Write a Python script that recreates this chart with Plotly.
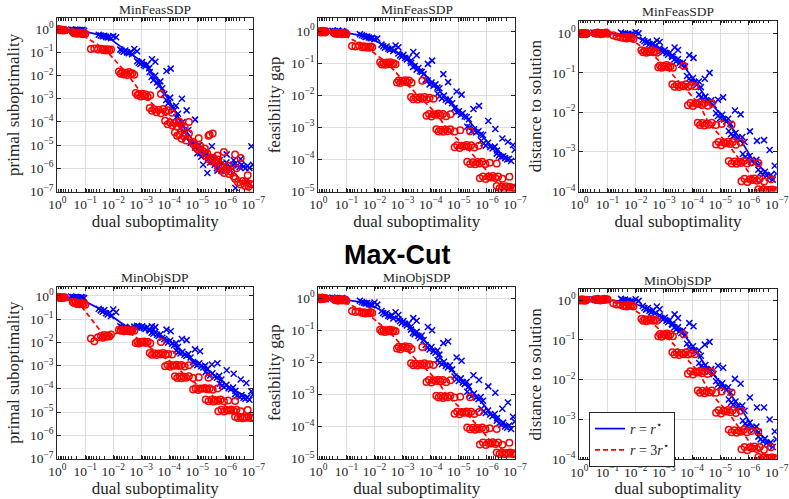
import numpy as np
import plotly.graph_objects as go

W, H = 789, 499

# ---------------- data (log10 values) ----------------
# dual suboptimality, shared by all panels (one list per outer iteration cluster)
BLUE_X = [
    [0.0, -0.03, -0.06, -0.09, -0.11, -0.14, -0.17, -0.2, -0.23, -0.26],
    [-0.5, -0.55, -0.6, -0.65, -0.7, -0.75, -0.8, -0.85, -0.9, -0.96],
    [-1.48, -1.55, -1.62, -1.68, -1.74, -1.8, -1.86, -1.92, -2.0, -2.1],
    [-2.25, -2.31, -2.37, -2.43, -2.49, -2.55, -2.61, -2.67, -2.75, -2.85],
    [-2.85, -2.91, -2.97, -3.03, -3.09, -3.15, -3.21, -3.28, -3.38, -3.5],
    [-3.3, -3.37, -3.43, -3.5, -3.56, -3.62, -3.68, -3.75, -3.9, -4.05],
    [-3.82, -3.89, -3.96, -4.03, -4.1, -4.17, -4.24, -4.31, -4.45, -4.62],
    [-4.25, -4.32, -4.4, -4.47, -4.54, -4.61, -4.68, -4.76, -4.92, -5.1],
    [-4.85, -4.92, -5.0, -5.07, -5.14, -5.21, -5.28, -5.36, -5.52, -5.72],
    [-5.3, -5.38, -5.46, -5.54, -5.62, -5.7, -5.78, -5.86, -6.05, -6.3],
    [-5.8, -5.88, -5.96, -6.04, -6.12, -6.2, -6.28, -6.36, -6.55, -6.75],
    [-6.35, -6.43, -6.51, -6.58, -6.65, -6.72, -6.79, -6.86, -6.93, -6.99],
]
RED_X = [
    [0.0, -0.03, -0.06, -0.09, -0.12, -0.15, -0.18, -0.21, -0.24, -0.27],
    [-0.55, -0.6, -0.65, -0.7, -0.75, -0.8, -0.85, -0.9, -0.95, -1.0],
    [-1.2, -1.32, -1.45, -1.56, -1.62, -1.68, -1.74, -1.8, -1.86, -1.92],
    [-2.2, -2.26, -2.32, -2.38, -2.44, -2.5, -2.56, -2.62, -2.68, -2.75],
    [-2.8, -2.86, -2.92, -2.98, -3.04, -3.1, -3.16, -3.23, -3.32, -3.7],
    [-3.3, -3.38, -3.46, -3.54, -3.62, -3.7, -3.78, -3.86, -3.96, -4.1],
    [-3.85, -3.94, -4.03, -4.11, -4.19, -4.27, -4.35, -4.43, -4.55, -4.7],
    [-4.2, -4.28, -4.36, -4.44, -4.52, -4.6, -4.7, -4.85, -5.05, -5.4],
    [-4.85, -4.94, -5.03, -5.11, -5.19, -5.27, -5.35, -5.44, -5.55, -5.72],
    [-5.3, -5.4, -5.5, -5.58, -5.66, -5.74, -5.83, -5.95, -6.1, -6.35],
    [-5.75, -5.86, -5.96, -6.05, -6.13, -6.21, -6.3, -6.4, -6.55, -6.8],
    [-6.35, -6.45, -6.54, -6.62, -6.69, -6.76, -6.83, -6.9, -6.96, -7.02],
]
BLUE_LINE_X = [-0.05, -0.72, -1.78, -2.52, -3.15, -3.6, -4.1, -4.55, -5.15, -5.65, -6.15, -6.75]
RED_LINE_X = [-0.1, -0.78, -1.7, -2.48, -3.05, -3.65, -4.25, -4.6, -5.25, -5.75, -6.2, -6.75]

# ---- MinFeasSDP: primal suboptimality ----
P1_BLUE_Y = [
    [0.0, -0.02, -0.04, -0.01, -0.03, -0.05, -0.02, -0.04, -0.03, -0.06],
    [-0.01, -0.03, -0.05, -0.02, -0.04, -0.06, -0.03, -0.05, -0.02, -0.07],
    [-0.24, -0.27, -0.3, -0.28, -0.33, -0.36, -0.34, -0.39, -0.3, -0.35],
    [-0.88, -0.93, -0.97, -0.92, -1.0, -1.04, -0.99, -1.08, -0.85, -0.95],
    [-1.38, -1.45, -1.5, -1.42, -1.55, -1.6, -1.52, -1.68, -1.3, -1.4],
    [-1.85, -2.05, -2.2, -2.0, -2.3, -2.45, -2.25, -2.55, -1.8, -1.7],
    [-2.8, -3.05, -3.2, -2.95, -3.35, -3.5, -3.3, -3.65, -3.0, -3.5],
    [-3.8, -4.05, -4.25, -4.0, -4.45, -4.7, -4.35, -4.9, -3.9, -5.35],
    [-4.9, -5.1, -5.35, -5.0, -5.5, -5.85, -5.3, -6.2, -5.05, -6.1],
    [-5.4, -5.6, -5.75, -5.5, -5.85, -6.0, -5.7, -6.1, -5.4, -5.65],
    [-5.65, -5.8, -5.9, -5.75, -6.0, -6.1, -5.85, -6.85, -5.6, -6.55],
    [-5.8, -5.88, -5.95, -5.85, -5.92, -6.0, -5.9, -5.98, -5.05, -5.85],
]
P1_RED_Y = [
    [0.02, -0.02, 0.0, -0.05, -0.01, -0.04, -0.02, -0.06, -0.03, -0.05],
    [-0.12, -0.18, -0.15, -0.2, -0.14, -0.19, -0.16, -0.22, -0.17, -0.2],
    [-0.85, -0.83, -0.88, -0.84, -0.9, -0.86, -0.92, -0.87, -0.91, -0.88],
    [-1.82, -1.92, -1.86, -1.95, -1.88, -1.98, -1.85, -1.93, -1.9, -1.96],
    [-2.75, -2.85, -2.8, -2.9, -2.78, -2.88, -2.82, -2.92, -2.85, -2.8],
    [-3.4, -3.52, -3.45, -3.58, -3.48, -3.62, -3.44, -3.55, -3.5, -3.6],
    [-3.95, -4.1, -4.02, -4.15, -4.05, -4.2, -3.98, -4.12, -4.22, -4.0],
    [-4.45, -4.6, -4.55, -4.72, -4.62, -4.8, -4.5, -4.85, -4.7, -4.6],
    [-4.95, -5.1, -5.2, -5.05, -5.25, -5.15, -5.35, -4.55, -4.5, -5.45],
    [-5.45, -5.6, -5.7, -5.55, -5.75, -5.62, -5.85, -5.3, -5.9, -5.4],
    [-5.95, -6.1, -6.2, -6.05, -6.25, -6.15, -6.35, -6.0, -5.55, -6.3],
    [-6.45, -6.6, -6.7, -6.55, -6.75, -6.62, -6.8, -6.68, -6.9, -6.7],
]
P1_BLUE_LINE_Y = [-0.02, -0.03, -0.32, -0.98, -1.5, -2.25, -3.3, -4.3, -5.3, -5.75, -5.9, -5.95]
P1_RED_LINE_Y = [-0.03, -0.17, -0.86, -1.9, -2.83, -3.5, -4.08, -4.63, -5.13, -5.63, -6.13, -6.64]

# ---- MinFeasSDP: feasibility gap ----
P2_BLUE_Y = [
    [0.02, -0.01, 0.01, -0.02, 0.0, -0.03, 0.02, -0.01, 0.0, -0.02],
    [0.01, -0.02, 0.0, -0.03, 0.02, -0.01, -0.04, 0.0, -0.02, -0.05],
    [-0.1, -0.13, -0.15, -0.18, -0.17, -0.2, -0.22, -0.21, -0.25, -0.23],
    [-0.42, -0.47, -0.52, -0.48, -0.55, -0.58, -0.54, -0.62, -0.45, -0.5],
    [-0.7, -0.76, -0.8, -0.74, -0.84, -0.88, -0.83, -0.93, -0.65, -0.75],
    [-0.99, -1.12, -1.09, -1.2, -1.15, -1.25, -1.27, -1.34, -1.02, -0.92],
    [-1.52, -1.54, -1.66, -1.6, -1.7, -1.66, -1.76, -1.78, -1.34, -1.59],
    [-1.95, -2.03, -2.1, -2.01, -2.14, -2.19, -2.13, -2.25, -1.88, -1.98],
    [-2.4, -2.53, -2.5, -2.61, -2.56, -2.66, -2.68, -2.75, -2.43, -2.33],
    [-2.98, -3.0, -3.12, -3.06, -3.16, -3.12, -3.22, -3.24, -2.8, -3.05],
    [-3.42, -3.5, -3.57, -3.48, -3.61, -3.66, -3.6, -3.72, -3.35, -3.45],
    [-3.82, -3.88, -3.92, -3.9, -3.96, -4.0, -3.98, -4.05, -3.55, -3.7],
]
P2_RED_Y = [
    [0.0, -0.03, -0.01, -0.04, -0.02, 0.01, -0.03, -0.02, -0.04, 0.0],
    [-0.05, -0.08, -0.06, -0.09, -0.07, -0.05, -0.1, -0.08, -0.06, -0.09],
    [-0.46, -0.48, -0.45, -0.5, -0.47, -0.51, -0.49, -0.52, -0.48, -0.5],
    [-0.97, -1.04, -0.99, -1.05, -0.98, -1.03, -0.97, -1.04, -1.0, -1.03],
    [-1.6, -1.54, -1.62, -1.55, -1.57, -1.53, -1.59, -1.54, -1.61, -1.55],
    [-2.05, -2.12, -2.07, -2.13, -2.06, -2.11, -2.05, -2.12, -2.08, -2.11],
    [-2.64, -2.58, -2.66, -2.59, -2.61, -2.57, -2.63, -2.58, -2.65, -2.59],
    [-3.06, -3.13, -3.08, -3.14, -3.07, -3.12, -3.06, -3.13, -3.09, -3.12],
    [-3.62, -3.56, -3.64, -3.57, -3.59, -3.55, -3.61, -3.56, -3.63, -3.57],
    [-4.07, -4.14, -4.09, -4.15, -4.08, -4.13, -4.07, -4.14, -4.1, -4.13],
    [-4.59, -4.53, -4.61, -4.54, -4.56, -4.52, -4.58, -4.53, -4.6, -4.54],
    [-4.83, -4.9, -4.85, -4.91, -4.84, -4.89, -4.86, -4.9, -4.88, -4.92],
]
P2_BLUE_LINE_Y = [0.0, -0.01, -0.18, -0.52, -0.82, -1.17, -1.64, -2.1, -2.58, -3.1, -3.57, -3.98]
P2_RED_LINE_Y = [-0.02, -0.07, -0.49, -1.01, -1.57, -2.09, -2.61, -3.1, -3.59, -4.11, -4.56, -4.88]

# ---- MinFeasSDP: distance to solution ----
P3_BLUE_Y = [
    [0.01, -0.01, 0.0, -0.02, 0.01, -0.01, 0.0, -0.02, 0.01, 0.0],
    [0.02, 0.0, -0.01, 0.01, -0.02, 0.0, 0.01, -0.01, 0.02, 0.0],
    [0.02, -0.01, 0.0, -0.03, -0.01, -0.04, -0.02, -0.05, 0.03, 0.0],
    [-0.16, -0.2, -0.24, -0.21, -0.27, -0.3, -0.26, -0.33, -0.18, -0.22],
    [-0.38, -0.44, -0.47, -0.42, -0.5, -0.54, -0.49, -0.57, -0.36, -0.42],
    [-0.6, -0.66, -0.71, -0.65, -0.75, -0.8, -0.73, -0.84, -0.55, -0.62],
    [-1.08, -1.15, -1.2, -1.13, -1.25, -1.3, -1.22, -1.36, -1.15, -1.0],
    [-1.55, -1.62, -1.67, -1.6, -1.71, -1.76, -1.69, -1.82, -1.68, -1.62],
    [-2.02, -2.09, -2.14, -2.06, -2.18, -2.23, -2.16, -2.29, -1.95, -2.05],
    [-2.47, -2.55, -2.6, -2.52, -2.65, -2.7, -2.62, -2.75, -2.48, -2.72],
    [-3.05, -3.13, -3.19, -3.1, -3.23, -3.28, -3.2, -3.33, -2.7, -2.95],
    [-3.45, -3.52, -3.57, -3.5, -3.6, -3.65, -3.58, -3.7, -3.35, -3.55],
]
P3_RED_Y = [
    [0.01, -0.01, 0.0, -0.02, 0.01, 0.0, -0.01, 0.01, -0.02, 0.0],
    [0.01, -0.01, 0.02, 0.0, -0.02, 0.01, -0.01, 0.0, 0.02, -0.01],
    [-0.05, -0.08, -0.1, -0.12, -0.09, -0.13, -0.1, -0.12, -0.11, -0.14],
    [-0.43, -0.48, -0.44, -0.49, -0.45, -0.47, -0.43, -0.48, -0.46, -0.49],
    [-0.86, -0.81, -0.87, -0.82, -0.84, -0.8, -0.86, -0.83, -0.87, -0.82],
    [-1.29, -1.35, -1.3, -1.36, -1.31, -1.34, -1.29, -1.35, -1.32, -1.34],
    [-1.82, -1.76, -1.84, -1.77, -1.79, -1.75, -1.81, -1.76, -1.83, -1.77],
    [-2.26, -2.32, -2.27, -2.33, -2.28, -2.31, -2.26, -2.32, -2.29, -2.31],
    [-2.81, -2.75, -2.83, -2.76, -2.78, -2.74, -2.8, -2.75, -2.82, -2.76],
    [-3.23, -3.29, -3.24, -3.3, -3.25, -3.28, -3.23, -3.29, -3.26, -3.28],
    [-3.74, -3.68, -3.76, -3.69, -3.71, -3.67, -3.73, -3.68, -3.75, -3.69],
    [-3.94, -3.99, -3.95, -4.0, -3.96, -3.98, -3.95, -3.99, -3.97, -3.98],
]
P3_BLUE_LINE_Y = [0.0, 0.0, -0.02, -0.25, -0.48, -0.72, -1.22, -1.68, -2.15, -2.61, -3.2, -3.6]
P3_RED_LINE_Y = [0.0, 0.0, -0.1, -0.46, -0.84, -1.32, -1.79, -2.29, -2.78, -3.26, -3.71, -3.97]

# ---- MinObjSDP: primal suboptimality ----
P4_BLUE_Y = [
    [-0.03, -0.06, -0.04, -0.08, -0.05, -0.07, -0.04, -0.09, -0.06, -0.08],
    [-0.02, -0.05, -0.07, -0.04, -0.08, -0.06, -0.1, -0.05, -0.07, -0.09],
    [-0.55, -0.62, -0.68, -0.6, -0.74, -0.8, -0.72, -0.86, -0.58, -0.7],
    [-1.3, -1.34, -1.38, -1.33, -1.4, -1.43, -1.37, -1.46, -1.32, -1.36],
    [-1.28, -1.32, -1.36, -1.3, -1.38, -1.42, -1.35, -1.45, -1.3, -1.34],
    [-1.5, -1.58, -1.63, -1.55, -1.67, -1.72, -1.65, -1.8, -1.45, -1.52],
    [-1.85, -1.95, -2.0, -1.92, -2.06, -2.12, -2.03, -2.2, -1.85, -1.9],
    [-2.35, -2.43, -2.48, -2.4, -2.53, -2.58, -2.5, -2.65, -2.3, -2.38],
    [-2.85, -2.93, -2.98, -2.9, -3.03, -3.08, -3.0, -3.15, -2.95, -2.9],
    [-3.28, -3.37, -3.42, -3.33, -3.47, -3.52, -3.44, -3.6, -3.2, -3.35],
    [-3.78, -3.86, -3.92, -3.83, -3.97, -4.02, -3.94, -4.08, -3.6, -3.75],
    [-4.22, -4.29, -4.34, -4.27, -4.38, -4.43, -4.36, -4.47, -4.1, -4.25],
]
P4_RED_Y = [
    [-0.03, -0.07, -0.04, -0.08, -0.05, -0.09, -0.06, -0.08, -0.05, -0.07],
    [-0.26, -0.3, -0.27, -0.34, -0.31, -0.36, -0.29, -0.35, -0.32, -0.38],
    [-1.83, -1.95, -1.78, -1.72, -1.8, -1.68, -1.76, -1.7, -1.74, -1.66],
    [-1.45, -1.5, -1.47, -1.52, -1.46, -1.51, -1.48, -1.53, -1.47, -1.5],
    [-2.03, -1.97, -2.05, -1.98, -2.0, -1.96, -2.02, -1.97, -2.04, -1.98],
    [-2.46, -2.53, -2.47, -2.54, -2.48, -2.52, -2.46, -2.53, -2.5, -2.52],
    [-3.03, -2.97, -3.05, -2.98, -3.0, -2.96, -3.02, -2.97, -3.04, -2.98],
    [-3.46, -3.53, -3.47, -3.54, -3.48, -3.52, -3.46, -3.53, -3.5, -3.52],
    [-4.03, -3.97, -4.05, -3.98, -4.0, -3.96, -4.02, -3.97, -4.04, -3.98],
    [-4.46, -4.53, -4.47, -4.54, -4.48, -4.52, -4.46, -4.53, -4.5, -4.52],
    [-4.96, -4.9, -4.98, -4.91, -4.93, -4.89, -4.95, -4.9, -4.97, -4.91],
    [-5.2, -5.26, -5.21, -5.27, -5.22, -5.25, -5.2, -5.26, -5.23, -5.25],
]
P4_BLUE_LINE_Y = [-0.05, -0.06, -0.72, -1.37, -1.35, -1.64, -2.02, -2.5, -3.0, -3.44, -3.94, -4.34]
P4_RED_LINE_Y = [-0.05, -0.32, -1.75, -1.49, -2.0, -2.5, -3.0, -3.5, -4.0, -4.5, -4.93, -5.23]

# ---- MinObjSDP: feasibility gap ----
P5_BLUE_Y = [
    [0.01, -0.02, 0.0, -0.01, 0.02, -0.02, 0.01, -0.01, 0.0, -0.03],
    [0.02, -0.01, 0.01, -0.02, 0.0, -0.03, -0.01, 0.01, -0.02, -0.04],
    [-0.08, -0.12, -0.14, -0.16, -0.15, -0.19, -0.2, -0.22, -0.13, -0.2],
    [-0.4, -0.46, -0.5, -0.47, -0.55, -0.58, -0.53, -0.63, -0.44, -0.52],
    [-0.66, -0.72, -0.77, -0.71, -0.8, -0.85, -0.79, -0.9, -0.62, -0.7],
    [-0.98, -1.08, -1.12, -1.05, -1.18, -1.24, -1.16, -1.3, -0.9, -1.0],
    [-1.46, -1.55, -1.6, -1.52, -1.65, -1.7, -1.63, -1.76, -1.4, -1.35],
    [-1.93, -2.01, -2.06, -1.98, -2.11, -2.16, -2.09, -2.22, -1.85, -1.95],
    [-2.44, -2.53, -2.58, -2.5, -2.63, -2.68, -2.61, -2.75, -2.4, -2.55],
    [-2.92, -3.0, -3.05, -2.97, -3.1, -3.15, -3.08, -3.2, -2.75, -2.95],
    [-3.45, -3.53, -3.58, -3.5, -3.63, -3.68, -3.61, -3.74, -3.45, -3.25],
    [-3.82, -3.9, -3.95, -3.88, -4.0, -4.04, -3.97, -4.08, -3.7, -3.85],
]
P5_RED_Y = [
    [0.02, -0.02, 0.01, -0.03, 0.0, 0.02, -0.02, 0.01, -0.01, 0.0],
    [-0.02, -0.06, -0.04, -0.08, -0.05, -0.03, -0.07, -0.04, -0.06, -0.08],
    [-0.4, -0.43, -0.41, -0.46, -0.44, -0.48, -0.45, -0.47, -0.43, -0.46],
    [-0.98, -1.04, -0.99, -1.05, -1.0, -1.03, -0.98, -1.04, -1.01, -1.03],
    [-1.57, -1.51, -1.59, -1.52, -1.54, -1.5, -1.56, -1.51, -1.58, -1.52],
    [-2.03, -2.09, -2.04, -2.1, -2.05, -2.08, -2.03, -2.09, -2.06, -2.08],
    [-2.61, -2.55, -2.63, -2.56, -2.58, -2.54, -2.6, -2.55, -2.62, -2.56],
    [-3.04, -3.1, -3.05, -3.11, -3.06, -3.09, -3.04, -3.1, -3.07, -3.09],
    [-3.6, -3.54, -3.62, -3.55, -3.57, -3.53, -3.59, -3.54, -3.61, -3.55],
    [-4.03, -4.09, -4.04, -4.1, -4.05, -4.08, -4.03, -4.09, -4.06, -4.08],
    [-4.56, -4.5, -4.58, -4.51, -4.53, -4.49, -4.55, -4.5, -4.57, -4.51],
    [-4.81, -4.86, -4.82, -4.87, -4.83, -4.85, -4.81, -4.86, -4.84, -4.86],
]
P5_BLUE_LINE_Y = [0.0, -0.01, -0.16, -0.52, -0.78, -1.15, -1.61, -2.08, -2.6, -3.07, -3.6, -4.0]
P5_RED_LINE_Y = [0.0, -0.05, -0.45, -1.01, -1.54, -2.06, -2.58, -3.07, -3.57, -4.06, -4.53, -4.85]

# ---- MinObjSDP: distance to solution ----
P6_BLUE_Y = [
    [0.01, 0.0, -0.01, 0.01, -0.02, 0.0, 0.01, -0.01, 0.0, 0.02],
    [0.02, 0.0, 0.01, -0.01, 0.02, 0.0, -0.01, 0.01, 0.03, 0.0],
    [0.03, 0.0, 0.01, -0.02, -0.01, -0.04, -0.03, -0.06, 0.02, -0.02],
    [-0.15, -0.2, -0.24, -0.2, -0.27, -0.31, -0.26, -0.34, -0.16, -0.23],
    [-0.39, -0.45, -0.49, -0.44, -0.52, -0.56, -0.5, -0.6, -0.36, -0.45],
    [-0.62, -0.69, -0.74, -0.68, -0.78, -0.83, -0.76, -0.88, -0.58, -0.66],
    [-1.1, -1.18, -1.23, -1.16, -1.28, -1.33, -1.26, -1.4, -1.12, -1.05],
    [-1.58, -1.66, -1.71, -1.63, -1.75, -1.8, -1.73, -1.86, -1.65, -1.7],
    [-2.04, -2.12, -2.17, -2.09, -2.21, -2.26, -2.19, -2.32, -1.98, -2.1],
    [-2.5, -2.58, -2.63, -2.55, -2.68, -2.73, -2.65, -2.78, -2.45, -2.7],
    [-3.03, -3.11, -3.17, -3.08, -3.21, -3.26, -3.18, -3.32, -2.7, -3.0],
    [-3.43, -3.5, -3.55, -3.48, -3.59, -3.64, -3.57, -3.69, -3.3, -3.5],
]
P6_RED_Y = [
    [0.01, -0.01, 0.0, 0.02, -0.01, 0.0, 0.01, -0.02, 0.0, 0.01],
    [0.02, 0.0, 0.03, 0.01, -0.01, 0.02, 0.0, 0.03, 0.01, 0.02],
    [-0.08, -0.11, -0.12, -0.15, -0.13, -0.16, -0.12, -0.15, -0.14, -0.16],
    [-0.47, -0.52, -0.48, -0.53, -0.49, -0.51, -0.47, -0.52, -0.5, -0.52],
    [-0.91, -0.85, -0.92, -0.86, -0.88, -0.84, -0.9, -0.86, -0.91, -0.86],
    [-1.31, -1.37, -1.32, -1.38, -1.33, -1.36, -1.31, -1.37, -1.34, -1.36],
    [-1.85, -1.79, -1.87, -1.8, -1.82, -1.78, -1.84, -1.79, -1.86, -1.8],
    [-2.27, -2.33, -2.28, -2.34, -2.29, -2.32, -2.27, -2.33, -2.3, -2.32],
    [-2.83, -2.77, -2.85, -2.78, -2.8, -2.76, -2.82, -2.77, -2.84, -2.78],
    [-3.26, -3.32, -3.27, -3.33, -3.28, -3.31, -3.26, -3.32, -3.29, -3.31],
    [-3.75, -3.69, -3.77, -3.7, -3.72, -3.68, -3.74, -3.69, -3.76, -3.7],
    [-3.94, -3.99, -3.95, -4.0, -3.96, -3.98, -3.95, -3.99, -3.97, -3.99],
]
P6_BLUE_LINE_Y = [0.0, 0.0, -0.03, -0.25, -0.5, -0.75, -1.25, -1.72, -2.18, -2.64, -3.18, -3.6]
P6_RED_LINE_Y = [0.0, 0.0, -0.13, -0.5, -0.88, -1.34, -1.82, -2.3, -2.8, -3.29, -3.72, -3.97]

X_TICK_EXP = [0, -1, -2, -3, -4, -5, -6, -7]
SUPTITLE = "Max-Cut"
SERIES_NAMES = ["<i>r</i> = <i>r</i><sup>⋆</sup>", "<i>r</i> = 3<i>r</i><sup>⋆</sup>"]

PANELS = [
    dict(title="MinFeasSDP", ylabel="primal suboptimality", ylo=-7, yhi=0.47,
         by=P1_BLUE_Y, ry=P1_RED_Y, bl=P1_BLUE_LINE_Y, rl=P1_RED_LINE_Y,
         px=(57.3, 253.3), py=(18.3, 191.5)),
    dict(title="MinFeasSDP", ylabel="feasibility gap", ylo=-5, yhi=0.40,
         by=P2_BLUE_Y, ry=P2_RED_Y, bl=P2_BLUE_LINE_Y, rl=P2_RED_LINE_Y,
         px=(318.3, 515.0), py=(18.3, 191.5)),
    dict(title="MinFeasSDP", ylabel="distance to solution", ylo=-4, yhi=0.32,
         by=P3_BLUE_Y, ry=P3_RED_Y, bl=P3_BLUE_LINE_Y, rl=P3_RED_LINE_Y,
         px=(579.3, 776.7), py=(20.7, 191.5)),
    dict(title="MinObjSDP", ylabel="primal suboptimality", ylo=-7, yhi=0.40,
         by=P4_BLUE_Y, ry=P4_RED_Y, bl=P4_BLUE_LINE_Y, rl=P4_RED_LINE_Y,
         px=(57.3, 253.3), py=(286.7, 458.5)),
    dict(title="MinObjSDP", ylabel="feasibility gap", ylo=-5, yhi=0.36,
         by=P5_BLUE_Y, ry=P5_RED_Y, bl=P5_BLUE_LINE_Y, rl=P5_RED_LINE_Y,
         px=(318.3, 515.0), py=(286.7, 458.5)),
    dict(title="MinObjSDP", ylabel="distance to solution", ylo=-4, yhi=0.27,
         by=P6_BLUE_Y, ry=P6_RED_Y, bl=P6_BLUE_LINE_Y, rl=P6_RED_LINE_Y,
         px=(579.3, 776.7), py=(289.3, 459.3)),
]

BLUE = "#0000ff"
RED = "#ff0000"
SERIF = "Liberation Serif"
INK = "#262626"


def flat(lst):
    return [v for grp in lst for v in grp]


def pw(v):
    return [10.0 ** a for a in v]


def tick_text(e):
    return "10<sup>%s</sup>" % (str(e).replace("-", "\u2212"))


minor_vals = [m * 10.0 ** k for k in range(-8, 1) for m in range(2, 10)]

fig = go.Figure()
layout = dict(
    template="none",
    width=W, height=H, margin=dict(l=0, r=0, t=0, b=0, autoexpand=False),
    paper_bgcolor="white", plot_bgcolor="white",
    font=dict(family=SERIF, color=INK),
    showlegend=True,
)
annotations = []

for i, p in enumerate(PANELS, start=1):
    xa = "x" if i == 1 else "x%d" % i
    ya = "y" if i == 1 else "y%d" % i
    fig.add_trace(go.Scatter(
        x=pw(flat(BLUE_X)), y=pw(flat(p["by"])), xaxis=xa, yaxis=ya,
        mode="markers", showlegend=False, hoverinfo="skip",
        marker=dict(symbol="x-thin", size=6, color=BLUE,
                    line=dict(color=BLUE, width=1.5))))
    fig.add_trace(go.Scatter(
        x=pw(BLUE_LINE_X), y=pw(p["bl"]), xaxis=xa, yaxis=ya,
        mode="lines", name=SERIES_NAMES[0], legendgroup="b",
        showlegend=(i == 6), line=dict(color=BLUE, width=1.7)))
    fig.add_trace(go.Scatter(
        x=pw(flat(RED_X)), y=pw(flat(p["ry"])), xaxis=xa, yaxis=ya,
        mode="markers", showlegend=False, hoverinfo="skip",
        marker=dict(symbol="circle-open", size=6.5, color=RED,
                    line=dict(color=RED, width=1.5))))
    fig.add_trace(go.Scatter(
        x=pw(RED_LINE_X), y=pw(p["rl"]), xaxis=xa, yaxis=ya,
        mode="lines", name=SERIES_NAMES[1], legendgroup="r",
        showlegend=(i == 6), line=dict(color=RED, width=1.7, dash="5px,3px")))

    x0, x1 = p["px"]
    y0, y1 = p["py"]
    ytick_exp = list(range(0, p["ylo"] - 1, -1))
    axis_common = dict(
        type="log", showline=True, linecolor=INK, linewidth=1,
        mirror="allticks", ticks="inside", ticklen=4, tickwidth=1,
        tickcolor=INK, showgrid=True, gridcolor="#dedede", gridwidth=1,
        zeroline=False, automargin=False, ticklabeloverflow="allow",
        tickfont=dict(family=SERIF, size=13.5, color=INK),
        tickmode="array",
    )
    layout["xaxis" if i == 1 else "xaxis%d" % i] = dict(
        axis_common, domain=[x0 / W, x1 / W], anchor=ya,
        range=[0, -7],
        tickvals=[10.0 ** e for e in X_TICK_EXP],
        ticktext=[tick_text(e) for e in X_TICK_EXP],
        minor=dict(tickmode="array", tickvals=minor_vals, ticks="inside",
                   ticklen=2.5, tickcolor=INK, showgrid=False),
        title=dict(text="dual suboptimality", standoff=2,
                   font=dict(family=SERIF, size=17, color=INK)),
    )
    layout["yaxis" if i == 1 else "yaxis%d" % i] = dict(
        axis_common, domain=[1 - y1 / H, 1 - y0 / H], anchor=xa,
        range=[p["ylo"], p["yhi"]],
        tickvals=[10.0 ** e for e in ytick_exp],
        ticktext=[tick_text(e) for e in ytick_exp],
        title=dict(text=p["ylabel"], standoff=6,
                   font=dict(family=SERIF, size=17, color=INK)),
    )
    annotations.append(dict(
        text=p["title"], x=(x0 + x1) / 2 / W, y=1 - (y0 - 9) / H,
        xref="paper", yref="paper", showarrow=False, xanchor="center",
        yanchor="middle", font=dict(family=SERIF, size=13.5, color=INK)))

annotations.append(dict(
    text="<b>%s</b>" % SUPTITLE, x=398 / W, y=1 - 255 / H, xref="paper", yref="paper",
    showarrow=False, xanchor="center", yanchor="middle",
    font=dict(family="Liberation Sans", size=27, color="black")))

layout["annotations"] = annotations
layout["legend"] = dict(
    x=589 / W, y=1 - 412 / H, xanchor="left", yanchor="top",
    bgcolor="white", bordercolor=INK, borderwidth=1,
    font=dict(family=SERIF, size=14, color=INK),
    tracegroupgap=0, itemwidth=30,
)
fig.update_layout(**layout)
fig.write_html(
    "out.html",
    config={"displayModeBar": False, "staticPlot": True},
    post_script="document.body.style.margin='0';document.body.style.padding='0';",
)
